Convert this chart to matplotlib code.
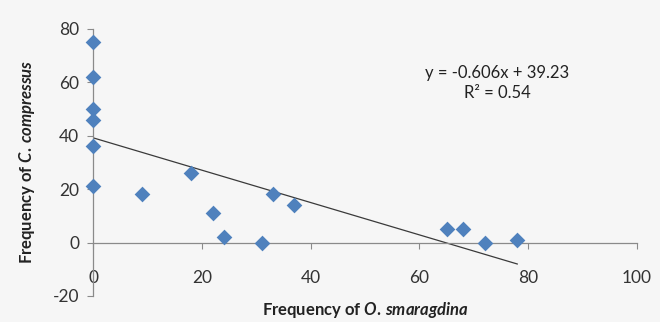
import numpy as np
import matplotlib
matplotlib.use("Agg")
import matplotlib.pyplot as plt

plt.rcParams['font.family'] = ['Lato', 'DejaVu Sans']
plt.rcParams['mathtext.fontset'] = 'custom'
plt.rcParams['mathtext.it'] = 'Lato:italic:bold'
plt.rcParams['mathtext.rm'] = 'Lato:bold'
plt.rcParams['axes.unicode_minus'] = False

# frequencies
o_smaragdina = [0, 0, 0, 0, 0, 0, 9, 18, 22, 24, 31, 33, 37, 65, 68, 72, 78]
c_compressus = [75, 62, 50, 46, 36, 21, 18, 26, 11, 2, 0, 18, 14, 5, 5, 0, 1]
slope = -0.606
intercept = 39.23
r2 = 0.54
xticks = [0, 20, 40, 60, 80, 100]
yticks = [-20, 0, 20, 40, 60, 80]

bg = '#f6f6f6'
fig = plt.figure(figsize=(6.6, 3.22), dpi=100, facecolor=bg)
ax = fig.add_axes([0.141, 0.081, 0.824, 0.829])
ax.set_facecolor(bg)

ax.scatter(o_smaragdina, c_compressus, marker='D', s=64, color='#4f81bd',
           zorder=3, clip_on=False, linewidths=0)

xfit = np.array([0, max(o_smaragdina)])
ax.plot(xfit, slope * xfit + intercept, color='#3a3a3a', lw=0.9, zorder=2)

ax.set_xlim(0, 100)
ax.set_ylim(-20, 80)
ax.set_xticks(xticks)
ax.set_yticks(yticks)

for s in ['top', 'right']:
    ax.spines[s].set_visible(False)
ax.spines['bottom'].set_position(('data', 0))
ax.spines['left'].set_position(('data', 0))
for s in ['bottom', 'left']:
    ax.spines[s].set_color('#8a8a8a')
    ax.spines[s].set_linewidth(0.9)

ax.tick_params(axis='x', direction='out', length=4, color='#8a8a8a',
               pad=16, labelsize=12.5, labelcolor='#333333')
ax.tick_params(axis='y', direction='out', length=4, color='#8a8a8a',
               pad=6, labelsize=12.5, labelcolor='#333333')

fig.text(497 / 660, 1 - 83 / 322, f"y = {slope}x + {intercept}\nR\u00b2 = {r2}",
         ha='center', va='center', fontsize=12, color='#222222',
         linespacing=1.3)

fig.text(365 / 660, 1 - 310 / 322, r"Frequency of $O.\,smaragdina$",
         ha='center', va='center', fontsize=12, fontweight='bold', color='#222222')
fig.text(27 / 660, 1 - 162 / 322, r"Frequency of $C.\,compressus$",
         ha='center', va='center', rotation=90, fontsize=12,
         fontweight='bold', color='#222222')

fig.savefig("out.png", dpi=100, facecolor=bg)
